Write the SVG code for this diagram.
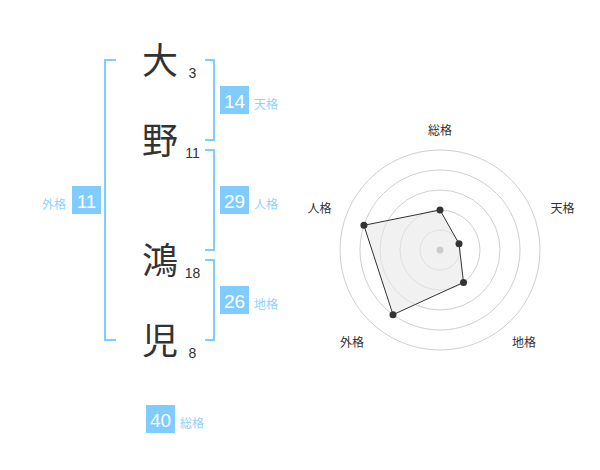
<svg xmlns="http://www.w3.org/2000/svg" width="600" height="470" viewBox="0 0 600 470">
<style>
.kanji{font-family:"Noto Sans CJK JP","Noto Sans CJK SC",sans-serif;font-size:36px;fill:#333;text-anchor:middle}
.strk{font-family:"Liberation Sans",Arial,sans-serif;font-size:14px;fill:#333;text-anchor:middle}
.box{fill:#80ccff}
.boxnum{font-family:"Liberation Sans",Arial,sans-serif;font-size:19px;fill:#fff;text-anchor:middle}
.lbl{font-family:"Noto Sans CJK JP","Noto Sans CJK SC",sans-serif;font-size:12px;fill:#8fd2ff}
.br{fill:none;stroke:#80ccff;stroke-width:2}
.ring{fill:none;stroke:#cfcfcf;stroke-width:1}
.rlbl{font-family:"Noto Sans CJK JP","Noto Sans CJK SC",sans-serif;font-size:12px;fill:#333;text-anchor:middle}
.pt{fill:#333}
</style>
<rect width="600" height="470" fill="#fff"/>
<g id="connectors">
<path class="br" d="M116,60 H105 V340 H116"/>
<path class="br" d="M205,60 H214 V140 H205"/>
<path class="br" d="M205,150 H214 V250 H205"/>
<path class="br" d="M205,260 H214 V340 H205"/>
</g>
<g id="char-1"><text class="kanji" x="160" y="74">大</text><text class="strk" x="192.5" y="77.5">3</text></g>
<g id="char-2"><text class="kanji" x="160" y="154">野</text><text class="strk" x="192.5" y="158">11</text></g>
<g id="char-3"><text class="kanji" x="160" y="274">鴻</text><text class="strk" x="192.5" y="277.5">18</text></g>
<g id="char-4"><text class="kanji" x="160" y="354">児</text><text class="strk" x="192.5" y="357.5">8</text></g>
<g id="tenkaku"><rect class="box" x="220" y="86" width="29" height="28"/><text class="boxnum" x="234.5" y="107.5">14</text><text class="lbl" x="254" y="109">天格</text></g>
<g id="jinkaku"><rect class="box" x="220" y="186" width="29" height="28"/><text class="boxnum" x="234.5" y="207.5">29</text><text class="lbl" x="254" y="209">人格</text></g>
<g id="chikaku"><rect class="box" x="220" y="286" width="29" height="28"/><text class="boxnum" x="234.5" y="307.5">26</text><text class="lbl" x="254" y="309">地格</text></g>
<g id="gaikaku"><rect class="box" x="72" y="186" width="29" height="28"/><text class="boxnum" x="86.5" y="207.5">11</text><text class="lbl" x="66" y="209" text-anchor="end">外格</text></g>
<g id="soukaku"><rect class="box" x="146" y="405" width="29" height="28"/><text class="boxnum" x="160.5" y="426.5">40</text><text class="lbl" x="180" y="428">総格</text></g>
<g id="radar">
<circle class="ring" cx="440" cy="250" r="20"/>
<circle class="ring" cx="440" cy="250" r="40"/>
<circle class="ring" cx="440" cy="250" r="60"/>
<circle class="ring" cx="440" cy="250" r="80"/>
<circle class="ring" cx="440" cy="250" r="100"/>
<polygon points="440,210 459,243.8 463.5,282.4 393,314.7 363.9,225.3" fill="#e8e8e8" fill-opacity="0.6" stroke="#333" stroke-width="1"/>
<circle cx="440" cy="250" r="3.5" fill="#cccccc"/>
<circle class="pt" cx="440" cy="210" r="3.5"/>
<circle class="pt" cx="459" cy="243.8" r="3.5"/>
<circle class="pt" cx="463.5" cy="282.4" r="3.5"/>
<circle class="pt" cx="393" cy="314.7" r="3.5"/>
<circle class="pt" cx="363.9" cy="225.3" r="3.5"/>
<text class="rlbl" x="440" y="135">総格</text>
<text class="rlbl" x="562.5" y="213">天格</text>
<text class="rlbl" x="524" y="347">地格</text>
<text class="rlbl" x="352" y="347">外格</text>
<text class="rlbl" x="319.5" y="213">人格</text>
</g>
</svg>
